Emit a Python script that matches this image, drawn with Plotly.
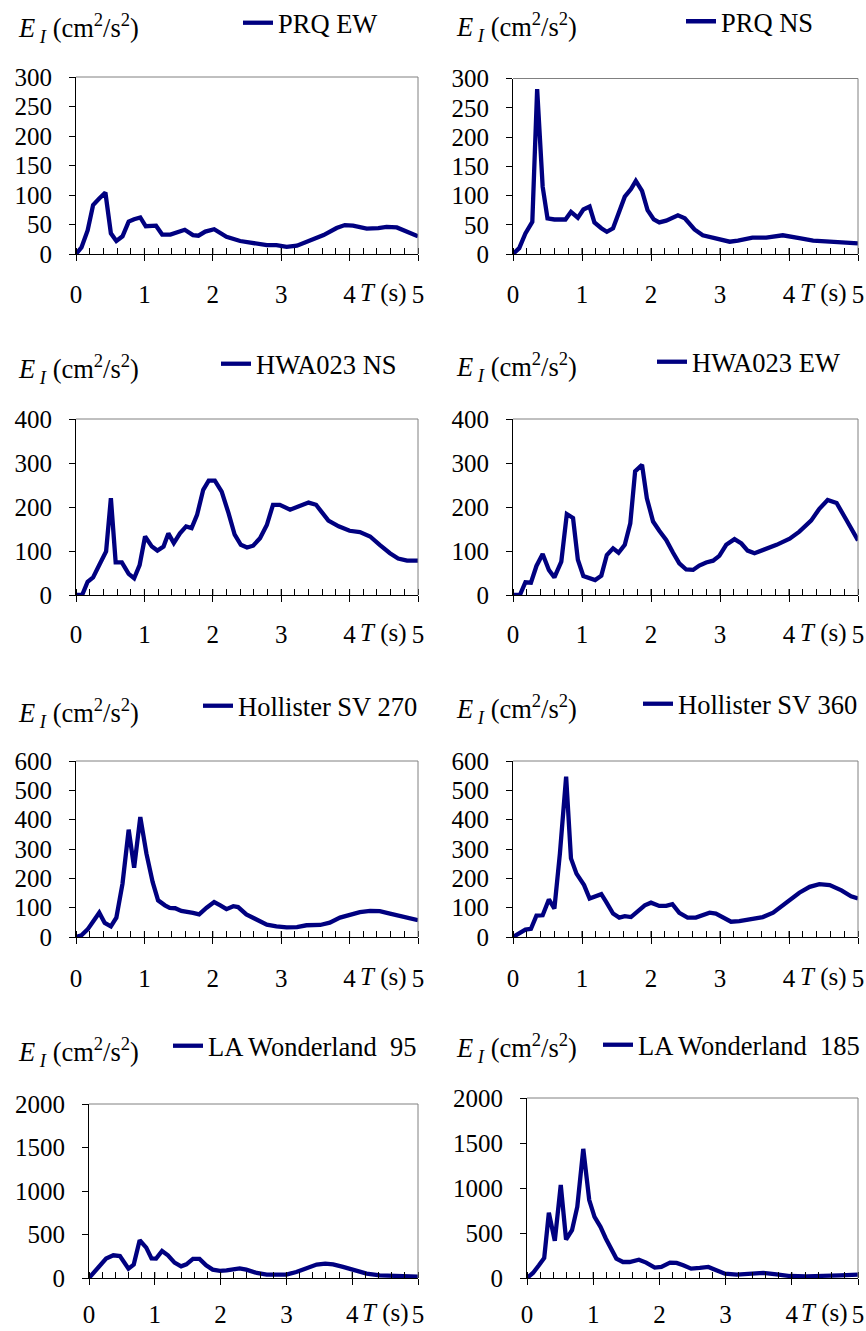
import plotly.graph_objects as go

W, H = 866, 1331
FONT = "Times New Roman, Liberation Serif, serif"
NAVY = "#000080"

# ---------------- data ----------------
names = ["PRQ EW", "PRQ NS", "HWA023 NS", "HWA023 EW",
         "Hollister SV 270", "Hollister SV 360",
         "LA Wonderland  95", "LA Wonderland  185"]

t_prq_ew = [0, 0.08, 0.17, 0.25, 0.34, 0.43, 0.51, 0.59, 0.68, 0.77, 0.85, 0.94, 1.02, 1.17, 1.26, 1.38,
            1.59, 1.71, 1.79, 1.89, 2.02, 2.2, 2.4, 2.59, 2.79, 2.93, 3.08, 3.23, 3.42, 3.62, 3.81, 3.93,
            4.05, 4.25, 4.42, 4.54, 4.69, 4.84, 5.0]
e_prq_ew = [0, 11, 40, 83, 94, 104, 35, 22, 30, 55, 59, 62, 47, 48, 33, 33,
            41, 32, 31, 38, 42, 29, 22, 18, 15, 15, 12, 14, 22, 32, 44, 49,
            48, 43, 44, 46, 45, 38, 30]

t_prq_ns = [0, 0.09, 0.18, 0.28, 0.35, 0.43, 0.5, 0.6, 0.76, 0.84, 0.94, 1.02, 1.11, 1.18, 1.28, 1.36,
            1.45, 1.53, 1.62, 1.71, 1.78, 1.87, 1.95, 2.04, 2.12, 2.22, 2.31, 2.39, 2.49, 2.63, 2.75, 2.9,
            3.0, 3.14, 3.26, 3.47, 3.67, 3.91, 4.15, 4.35, 4.59, 4.83, 5.0]
e_prq_ns = [0, 10, 35, 55, 282, 115, 61, 59, 59, 72, 62, 76, 81, 54, 44, 38,
            44, 70, 98, 111, 125, 108, 75, 59, 54, 57, 61, 66, 61, 42, 32, 28,
            24, 21, 23, 28, 28, 32, 27, 23, 21, 20, 18]

t_hwa_ns = [0, 0.09, 0.17, 0.25, 0.34, 0.44, 0.51, 0.58, 0.67, 0.77, 0.85, 0.93, 1.01, 1.11, 1.19, 1.28,
            1.35, 1.43, 1.52, 1.61, 1.69, 1.77, 1.86, 1.94, 2.03, 2.13, 2.23, 2.32, 2.41, 2.5, 2.59, 2.69,
            2.79, 2.88, 2.98, 3.13, 3.25, 3.4, 3.51, 3.69, 3.84, 4.0, 4.15, 4.3, 4.44, 4.59, 4.71, 4.84, 5.0]
e_hwa_ns = [0, 0, 30, 40, 68, 99, 220, 74, 74, 48, 38, 68, 133, 110, 101, 110,
            140, 118, 140, 156, 152, 182, 239, 260, 260, 235, 186, 137, 114, 108, 112, 129,
            159, 205, 205, 194, 201, 210, 205, 169, 156, 146, 143, 133, 114, 95, 83, 78, 78]

t_hwa_ew = [0, 0.1, 0.18, 0.26, 0.34, 0.43, 0.52, 0.6, 0.7, 0.78, 0.87, 0.94, 1.02, 1.1, 1.19, 1.28,
            1.36, 1.45, 1.53, 1.62, 1.7, 1.77, 1.87, 1.94, 2.03, 2.12, 2.22, 2.32, 2.41, 2.51, 2.61, 2.7,
            2.8, 2.9, 2.99, 3.09, 3.21, 3.31, 3.4, 3.5, 3.67, 3.82, 4.01, 4.15, 4.32, 4.44, 4.56, 4.69,
            4.83, 5.0]
e_hwa_ew = [0, 0, 29, 28, 66, 93, 57, 40, 76, 184, 175, 80, 43, 38, 34, 44,
            91, 106, 96, 114, 163, 281, 296, 220, 167, 146, 125, 96, 72, 58, 57, 67,
            74, 78, 89, 114, 127, 117, 101, 95, 104, 114, 128, 144, 169, 196, 216, 209,
            171, 124]

t_hol_270 = [0, 0.08, 0.17, 0.25, 0.34, 0.42, 0.51, 0.59, 0.68, 0.77, 0.85, 0.94, 1.03, 1.12, 1.2, 1.3,
             1.37, 1.45, 1.54, 1.71, 1.8, 1.91, 2.02, 2.11, 2.2, 2.3, 2.37, 2.49, 2.59, 2.69, 2.79, 2.93,
             3.08, 3.23, 3.37, 3.57, 3.71, 3.86, 4.01, 4.15, 4.3, 4.44, 4.59, 4.78, 5.0]
e_hol_270 = [0, 6, 26, 55, 83, 48, 36, 66, 182, 366, 236, 409, 284, 188, 125, 108,
             99, 98, 89, 82, 77, 100, 119, 108, 95, 105, 102, 77, 66, 57, 42, 36,
             33, 34, 40, 41, 49, 66, 77, 85, 89, 88, 80, 68, 57]

t_hol_360 = [0, 0.09, 0.18, 0.26, 0.34, 0.43, 0.52, 0.6, 0.68, 0.77, 0.84, 0.92, 1.03, 1.11, 1.2, 1.28,
             1.35, 1.45, 1.54, 1.62, 1.71, 1.81, 1.91, 2.0, 2.12, 2.22, 2.31, 2.41, 2.53, 2.65, 2.75, 2.85,
             2.94, 3.04, 3.16, 3.28, 3.43, 3.62, 3.77, 3.96, 4.15, 4.3, 4.44, 4.59, 4.76, 4.9, 5.0]
e_hol_360 = [0, 11, 25, 28, 73, 74, 128, 97, 285, 547, 268, 216, 177, 131, 137, 146,
             120, 80, 66, 71, 68, 89, 108, 117, 106, 106, 112, 82, 66, 66, 76, 83,
             80, 66, 52, 54, 59, 68, 83, 116, 151, 171, 180, 177, 159, 139, 131]

t_la_95 = [0, 0.09, 0.17, 0.26, 0.37, 0.47, 0.6, 0.68, 0.77, 0.87, 0.95, 1.02, 1.11, 1.2, 1.3, 1.4,
           1.48, 1.58, 1.68, 1.78, 1.88, 1.99, 2.09, 2.19, 2.29, 2.39, 2.55, 2.7, 2.85, 3.0, 3.15, 3.31,
           3.46, 3.59, 3.71, 3.86, 4.02, 4.22, 4.42, 4.68, 5.0]
e_la_95 = [0, 81, 134, 223, 261, 253, 107, 154, 434, 349, 226, 223, 311, 261, 177, 134,
           157, 219, 219, 146, 96, 81, 88, 104, 111, 96, 58, 38, 35, 38, 69, 119,
           154, 165, 157, 127, 88, 50, 31, 19, 15]

t_la_185 = [0, 0.09, 0.18, 0.26, 0.33, 0.42, 0.51, 0.59, 0.68, 0.76, 0.85, 0.94, 1.02, 1.11, 1.19, 1.28,
            1.35, 1.45, 1.55, 1.69, 1.8, 1.93, 2.03, 2.16, 2.26, 2.36, 2.48, 2.61, 2.74, 2.86, 2.99, 3.17,
            3.37, 3.57, 3.77, 3.97, 4.22, 4.48, 4.73, 5.0]
e_la_185 = [0, 56, 141, 223, 725, 413, 1033, 428, 532, 792, 1435, 866, 680, 569, 439, 309,
            216, 178, 178, 204, 171, 115, 123, 171, 167, 141, 104, 112, 123, 86, 48, 37,
            41, 56, 41, 22, 19, 19, 30, 37]

series_t = [t_prq_ew, t_prq_ns, t_hwa_ns, t_hwa_ew, t_hol_270, t_hol_360, t_la_95, t_la_185]
series_e = [e_prq_ew, e_prq_ns, e_hwa_ns, e_hwa_ew, e_hol_270, e_hol_360, e_la_95, e_la_185]
y_max = [300, 300, 400, 400, 600, 600, 2000, 2000]
y_step = [50, 50, 100, 100, 100, 100, 500, 500]
x_ticks = [0, 1, 2, 3, 4, 5]

# ---------------- layout geometry (pixels) ----------------
# plot area: left, right, top, bottom
boxes = [(76, 418, 77, 254), (513, 858, 78.5, 254),
         (76, 418, 419, 595), (513, 858, 419, 595),
         (76, 418, 761, 937), (513, 858, 761, 937),
         (89, 418, 1104, 1278), (527, 858, 1098, 1278)]
# title (left, center y)
title_pos = [(16, 28.5), (454, 27), (16, 369), (454, 367.5),
             (16, 712.5), (454, 709), (16, 1052), (454, 1047.5)]
# legend text start x, center y
legend_pos = [(279, 23), (722, 21.5), (257, 364), (693, 362),
              (239, 706), (679, 704), (209, 1046), (639, 1045)]
# x tick-label row center y and label standoff
xlab_y = [293, 293, 633, 633, 977, 977, 1313, 1313]
xlab_off = [12, 12, 11, 11, 13, 13, 8, 8]


def fx(p):
    return p / W


def fy(p):
    return 1 - p / H


fig = go.Figure()
layout = dict(width=W, height=H, margin=dict(l=0, r=0, t=0, b=0, autoexpand=False),
              paper_bgcolor="white", plot_bgcolor="white",
              font=dict(family=FONT, size=25, color="black"))
shapes = []
annotations = []

for i in range(8):
    k = i + 1
    sx = "" if k == 1 else str(k)
    lg = "legend" if k == 1 else "legend%d" % k
    fig.add_trace(go.Scatter(x=series_t[i], y=series_e[i], mode="lines", name=names[i],
                             line=dict(color=NAVY, width=4.3), xaxis="x" + sx, yaxis="y" + sx,
                             legend=lg, showlegend=True))
    l, r, t, b = boxes[i]
    layout["xaxis" + sx] = dict(domain=[fx(l), fx(r)], anchor="y" + sx, range=[0, 5],
                                tickvals=x_ticks, ticktext=[str(v) for v in x_ticks],
                                ticks="outside", ticklen=6, tickcolor="black", tickwidth=1,
                                minor=dict(dtick=0.2, tick0=0, ticks="inside", ticklen=6,
                                           tickcolor="black", tickwidth=1),
                                showline=True, linecolor="black", linewidth=1,
                                showgrid=False, zeroline=False, fixedrange=True,
                                ticklabelstandoff=xlab_off[i],
                                tickfont=dict(family=FONT, size=25, color="black"))
    layout["yaxis" + sx] = dict(domain=[fy(b), fy(t)], anchor="x" + sx, range=[0, y_max[i]],
                                dtick=y_step[i], tick0=0,
                                ticks="outside", ticklen=6, tickcolor="black", tickwidth=1,
                                showline=True, linecolor="black", linewidth=1,
                                showgrid=False, zeroline=False, fixedrange=True,
                                ticklabelstandoff=12,
                                tickfont=dict(family=FONT, size=25, color="black"))
    # gray top / right frame
    shapes.append(dict(type="line", xref="x%s domain" % sx, yref="y%s domain" % sx,
                       x0=0, x1=1, y0=1, y1=1, line=dict(color="#808080", width=1)))
    shapes.append(dict(type="line", xref="x%s domain" % sx, yref="y%s domain" % sx,
                       x0=1, x1=1, y0=0, y1=1, line=dict(color="#808080", width=1)))
    # major ticks crossing above axis
    for v in x_ticks[1:-1]:
        shapes.append(dict(type="line", xref="x" + sx, yref="y%s domain" % sx,
                           x0=v, x1=v, y0=0, y1=6 / (b - t), line=dict(color="black", width=1)))
    # y-axis title
    tx, ty = title_pos[i]
    annotations.append(dict(text="<i>E</i><sub><i> I</i></sub> (cm<sup>2</sup>/s<sup>2</sup>)",
                            xref="paper", yref="paper", x=fx(tx), y=fy(ty),
                            xanchor="left", yanchor="middle", showarrow=False,
                            font=dict(family=FONT, size=26.5, color="black")))
    # x-axis title between 4 and 5
    annotations.append(dict(text="<i>T</i> (s)", xref="x" + sx, yref="paper",
                            x=4.5, y=fy(xlab_y[i]), xanchor="center", yanchor="middle",
                            showarrow=False, font=dict(family=FONT, size=25, color="black")))
    # legend
    lx, ly = legend_pos[i]
    layout[lg] = dict(x=fx(lx - 41), y=fy(ly), xanchor="left", yanchor="middle",
                      bgcolor="rgba(0,0,0,0)", borderwidth=0,
                      font=dict(family=FONT, size=26.5, color="black"))

layout["shapes"] = shapes
layout["annotations"] = annotations
fig.update_layout(**layout)
fig.write_html("out.html")
